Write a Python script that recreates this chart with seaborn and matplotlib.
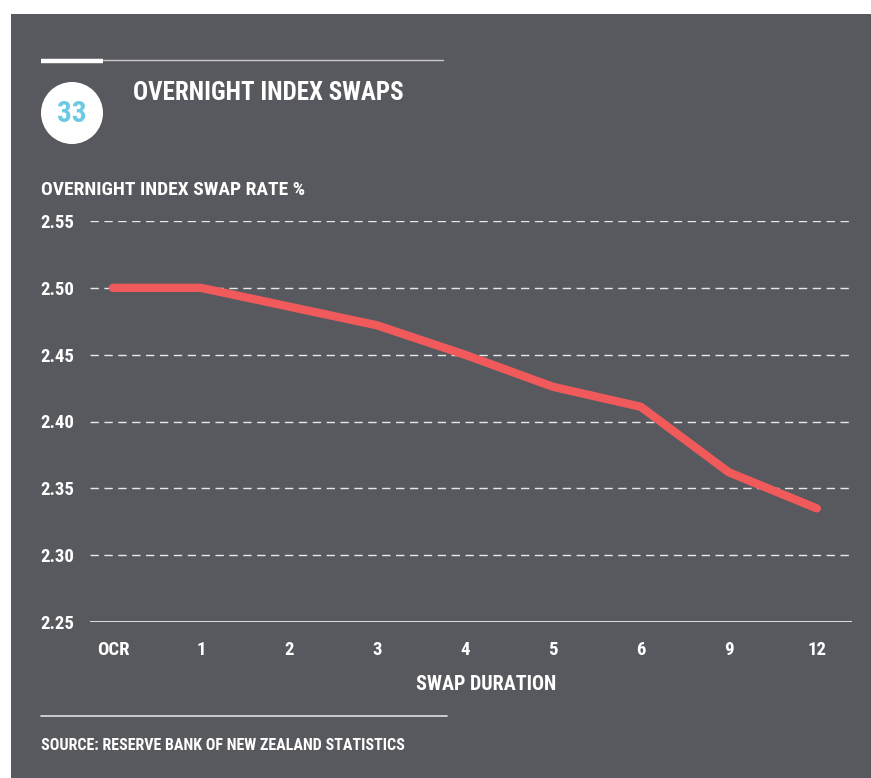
"""Overnight index swaps chart."""

import matplotlib
matplotlib.use("Agg")
import matplotlib.pyplot as plt
from matplotlib import font_manager
from matplotlib.lines import Line2D
from matplotlib.patches import Rectangle, Ellipse
import pandas as pd
import seaborn as sns

durations = ["OCR", "1", "2", "3", "4", "5", "6", "9", "12"]
rates = [2.500, 2.500, 2.486, 2.472, 2.450, 2.426, 2.411, 2.362, 2.335]
y_ticks = [2.25, 2.30, 2.35, 2.40, 2.45, 2.50, 2.55]

BG = "#58595e"
RED = "#f15a5b"
BLUE = "#6ccbe2"

sns.set_theme(style="white")
names = {f.name for f in font_manager.fontManager.ttflist}
family = next((n for n in ["Roboto Condensed", "Liberation Sans Narrow", "Arial Narrow",
                           "Open Sans Condensed", "Roboto", "Liberation Sans"] if n in names),
              "DejaVu Sans")
plt.rcParams["font.family"] = [family, "DejaVu Sans"]
plt.rcParams["font.weight"] = "bold"

W, H = 871, 778
fig = plt.figure(figsize=(W / 100, H / 100), dpi=100, facecolor="white")


def fx(px):
    return px / W


def fy(py):
    return 1 - py / H


# dark panel
fig.patches.append(Rectangle((fx(11), 0), 1 - fx(11), fy(14), transform=fig.transFigure,
                             facecolor=BG, edgecolor="none", zorder=-5))

# header rules
fig.add_artist(Line2D([fx(103), fx(443)], [fy(60), fy(60)], color="#c9c9cb", lw=1.0))
fig.add_artist(Line2D([fx(41), fx(103)], [fy(61), fy(61)], color="white", lw=3.2,
                      solid_capstyle="butt"))

# badge
fig.add_artist(Ellipse((fx(72), fy(113)), 62 / W, 62 / H, transform=fig.transFigure,
                       facecolor="white", edgecolor="none"))
fig.text(fx(72), fy(114), "33", color=BLUE, fontsize=21, fontweight="bold",
         ha="center", va="center")
fig.text(fx(133), fy(93), "OVERNIGHT INDEX SWAPS", color="white", fontsize=18,
         fontweight="bold", ha="left", va="center")
fig.text(fx(41), fy(190), "OVERNIGHT INDEX SWAP RATE %", color="white", fontsize=14,
         fontweight="bold", ha="left", va="center")

# plot area
ax = fig.add_axes([fx(90), fy(622), fx(852) - fx(90), fy(221) - fy(622)])
ax.set_facecolor("none")
df = pd.DataFrame({"duration": durations, "rate": rates})
sns.lineplot(data=df, x="duration", y="rate", sort=False, color=RED, lw=6,
             solid_capstyle="round", solid_joinstyle="round", ax=ax, zorder=3)

ax.set_ylim(2.25, 2.55)
ax.set_xlim(-0.26, 8.4)
ax.set_yticks(y_ticks)
ax.set_yticklabels([f"{v:.2f}" for v in y_ticks])
for v in y_ticks[1:]:
    ax.axhline(v, color="#e8e8e8", lw=1.0, dashes=(6, 4), zorder=1)
ax.axhline(2.25, color="#e8e8e8", lw=1.3, zorder=1)

for s in ax.spines.values():
    s.set_visible(False)
ax.tick_params(axis="y", length=0, pad=35.5, labelsize=13.5, labelcolor="white")
ax.tick_params(axis="x", length=0, pad=14, labelsize=13.5, labelcolor="white")
for lab in ax.get_yticklabels():
    lab.set_horizontalalignment("left")
    lab.set_fontweight("bold")
for lab in ax.get_xticklabels():
    lab.set_fontweight("bold")
ax.set_xlabel("")
ax.set_ylabel("")

fig.text(fx(486), fy(684), "SWAP DURATION", color="white", fontsize=14.5,
         fontweight="bold", ha="center", va="center")

# footer
fig.add_artist(Line2D([fx(41), fx(447)], [fy(716), fy(716)], color="#d4d4d6", lw=1.3))
fig.text(fx(41), fy(745), "SOURCE: RESERVE BANK OF NEW ZEALAND STATISTICS", color="white",
         fontsize=11.5, fontweight="bold", ha="left", va="center")

fig.savefig("out.png", dpi=100, facecolor="white")
plt.close(fig)
